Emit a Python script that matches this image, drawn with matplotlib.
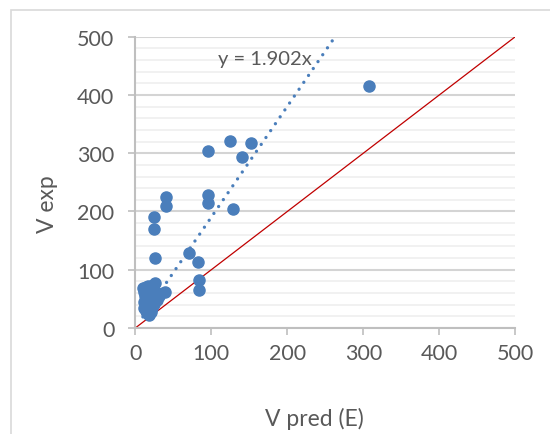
import numpy as np
import matplotlib.pyplot as plt
from matplotlib.patches import Rectangle

# data
v_pred = [307, 125, 152, 96, 141, 40, 40, 96, 96, 129, 24, 24, 26, 71, 83, 84, 84, 39,
          10, 12, 14, 17, 20, 23, 26, 28, 31, 13, 16, 20, 24, 29, 12, 15, 19, 12, 14, 16, 18, 20, 22, 25]
v_exp = [415, 321, 318, 304, 293, 225, 210, 229, 215, 205, 190, 170, 120, 129, 114, 82, 65, 62,
         68, 62, 70, 72, 70, 74, 77, 60, 55, 55, 50, 55, 50, 48, 45, 40, 42, 35, 30, 26, 22, 28, 35, 42]
slope = 1.902
ticks = [0, 100, 200, 300, 400, 500]

plt.rcParams['font.family'] = ['Lato', 'DejaVu Sans']
txt = '#595959'
blue = '#4a7ebb'

fig = plt.figure(figsize=(5.5, 4.35), dpi=100)
W, H = 550, 435
ax = fig.add_axes([135.3 / W, 1 - 329 / H, 380 / W, 291.3 / H])

# outer chart border (only top/left visible)
fig.patches.append(Rectangle((11 / W, -0.1), 1.2, 1 - 11 / H + 0.1, transform=fig.transFigure,
                             fill=False, edgecolor='#d9d9d9', lw=1.2))

ax.set_xlim(0, 500)
ax.set_ylim(0, 500)
ax.set_xticks(ticks)
ax.set_yticks(ticks)
ax.set_yticks(np.arange(0, 501, 20), minor=True)
ax.grid(axis='y', which='minor', color='#efefef', lw=1.2)
ax.grid(axis='y', which='major', color='#d4d4d4', lw=1.5)
ax.set_axisbelow(True)
for s in ['top', 'right']:
    ax.spines[s].set_visible(False)
for s in ['left', 'bottom']:
    ax.spines[s].set_color('#bfbfbf')
    ax.spines[s].set_linewidth(1.5)
ax.tick_params(axis='both', which='major', length=5, width=1.2, color='#bfbfbf',
               labelsize=15.5, labelcolor=txt)
ax.tick_params(axis='y', which='minor', length=0)
ax.tick_params(axis='y', pad=10)
ax.tick_params(axis='x', pad=6)

# 1:1 line
ax.plot([0, 500], [0, 500], color='#c00000', lw=0.9, zorder=2)

# trendline through origin
xt = np.array([min(v_pred), max(v_pred)])
ax.plot(xt, slope * xt, color=blue, lw=2.4, linestyle=(0, (0.01, 2.5)),
        dash_capstyle='round', zorder=3)
ax.text(171, 462, 'y = 1.902x', ha='center', va='center', fontsize=14.5, color=txt)

ax.scatter(v_pred, v_exp, s=64, color=blue, zorder=4, clip_on=False)

fig.text(314 / W, 1 - 419 / H, 'V pred (E)', ha='center', va='center', fontsize=16.5, color=txt)
fig.text(47 / W, 1 - 204 / H, 'V exp', ha='center', va='center', rotation=90,
         fontsize=16.5, color=txt)

fig.savefig('out.png', dpi=100)
